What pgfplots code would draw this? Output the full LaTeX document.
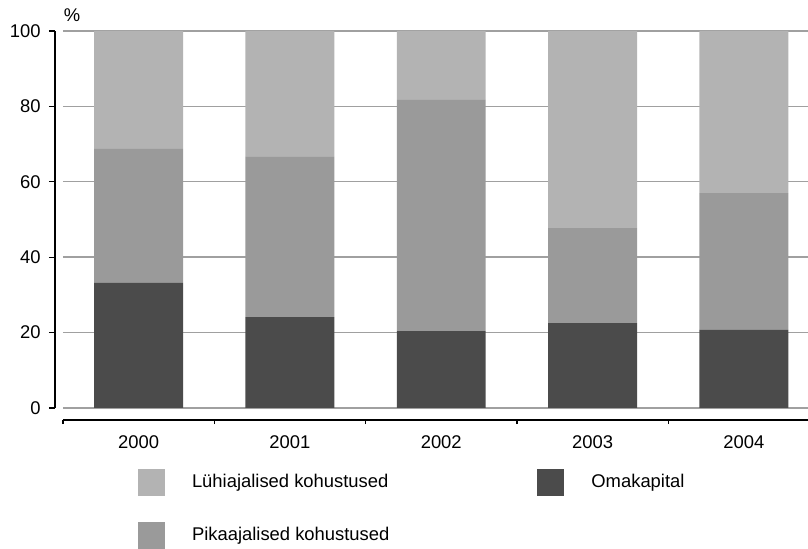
\documentclass[border=0pt]{standalone}
\usepackage{fontspec}
\setmainfont{Liberation Sans}
\usepackage{pgfplots}
\pgfplotsset{compat=1.18}

\definecolor{luhi}{HTML}{B3B3B3}
\definecolor{pika}{HTML}{9A9A9A}
\definecolor{oma}{HTML}{4B4B4B}
\definecolor{gridc}{HTML}{A0A0A0}

\begin{document}
\begin{tikzpicture}
\begin{axis}[
    scale only axis, width=372.5pt, height=188.5pt,
    ybar stacked, bar width=0.588,
    xmin=-0.5, xmax=4.424, ymin=0, ymax=100,
    axis x line=bottom, axis y line=left,
    axis x line shift=6pt, axis y line shift=4pt,
    axis line style={-, black, line width=1pt},
    xtick={0,1,2,3,4},
    xticklabels={2000,2001,2002,2003,2004},
    minor xtick={-0.5,0.5,1.5,2.5,3.5},
    ytick={0,20,40,60,80,100},
    ymajorgrids, major grid style={gridc, line width=0.7pt},
    tick align=outside,
    major tick length=3pt, minor tick length=2pt,
    major x tick style={draw=none},
    tick style={black, line width=0.6pt},
    /pgf/number format/assume math mode=true,
    tick label style={font=\fontsize{9.2}{11}\selectfont},
    xticklabel style={inner sep=0pt, yshift=-4.5pt},
    yticklabel style={inner sep=0pt, xshift=-4pt},
    legend columns=2,
    legend cell align=left,
    legend image code/.code={\fill[#1] (0pt,-6.75pt) rectangle (13.5pt,6.75pt); \path (27pt,0pt);},
    legend style={at={(0.1007,-0.1618)}, anchor=north west, draw=none, fill=none,
        inner sep=0pt, outer sep=0pt, row sep=13pt,
        nodes={inner sep=0pt, font=\fontsize{9.2}{11}\selectfont},
        /tikz/every even column/.append style={column sep=74pt}},
]
\addplot[fill=oma, draw=none, forget plot] coordinates {(0,33.2) (1,24.1) (2,20.4) (3,22.5) (4,20.7)};
\addplot[fill=pika, draw=none, forget plot] coordinates {(0,35.5) (1,42.5) (2,61.3) (3,25.2) (4,36.3)};
\addplot[fill=luhi, draw=none, forget plot] coordinates {(0,31.3) (1,33.4) (2,18.3) (3,52.3) (4,43.0)};

\addlegendimage{fill=luhi, draw=none}
\addlegendentry{Lühiajalised kohustused}
\addlegendimage{fill=oma, draw=none}
\addlegendentry{Omakapital}
\addlegendimage{fill=pika, draw=none}
\addlegendentry{Pikaajalised kohustused}

\coordinate (pct) at (rel axis cs:0.012,1.042);
\coordinate (BBsw) at (rel axis cs:-0.08456,-0.374);
\coordinate (BBne) at (rel axis cs:1,1.0822);
\end{axis}
\node[font=\fontsize{9.2}{11}\selectfont, inner sep=0pt] at (pct) {\%};
\pgfresetboundingbox
\path (BBsw) rectangle (BBne);
\end{tikzpicture}
\end{document}
